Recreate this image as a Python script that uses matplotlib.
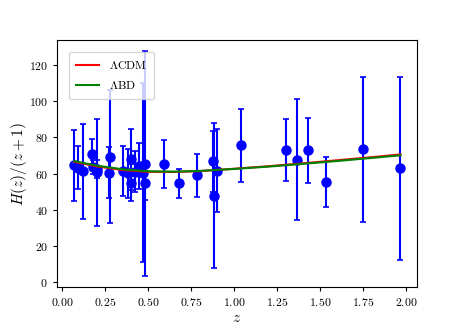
import matplotlib
matplotlib.use("Agg")
import matplotlib.pyplot as plt
from matplotlib.ticker import FuncFormatter

plt.rcParams["mathtext.fontset"] = "cm"
plt.rcParams["font.family"] = ["DejaVu Serif"]

# cosmic chronometer data, H(z)/(1+z) with raw sigma_H as error
z_data = [0.07, 0.09, 0.12, 0.17, 0.179, 0.199, 0.20, 0.27, 0.28, 0.352,
          0.38, 0.40, 0.4004, 0.425, 0.445, 0.47, 0.4783, 0.48, 0.593, 0.68,
          0.781, 0.875, 0.88, 0.90, 1.037, 1.30, 1.363, 1.43, 1.53, 1.75, 1.965]
h_scaled = [64.5, 63.3, 61.3, 70.9, 63.6, 62.6, 60.8, 60.6, 69.4, 61.4,
            60.1, 67.9, 55.0, 61.1, 64.2, 60.5, 54.7, 65.5, 65.3, 54.8,
            59.0, 66.7, 47.9, 61.6, 75.6, 73.0, 67.7, 72.8, 55.3, 73.5, 62.9]
h_err = [19.6, 12.0, 26.2, 8.0, 4.0, 5.0, 29.6, 14.0, 36.6, 14.0,
         13.5, 17.0, 10.2, 11.2, 12.9, 49.6, 9.0, 62.0, 13.0, 8.0,
         12.0, 17.0, 40.0, 23.0, 20.0, 17.0, 33.6, 18.0, 14.0, 40.0, 50.4]

# model curves
z_model = [0.07, 0.2, 0.35, 0.5, 0.65, 0.8, 1.0, 1.2, 1.4, 1.6, 1.8, 1.965]
lcdm = [66.5, 64.0, 62.0, 61.0, 60.9, 61.4, 62.7, 64.1, 65.7, 67.4, 69.1, 70.6]
lbd = [66.9, 64.4, 62.4, 61.3, 61.1, 61.5, 62.6, 63.9, 65.4, 67.0, 68.7, 70.1]

fig = plt.figure(figsize=(4.63, 3.27), dpi=100)
ax = fig.add_axes([0.123, 0.122, 0.778, 0.755])

ax.errorbar(z_data, h_scaled, yerr=h_err, fmt="o", color="blue",
            markersize=6.5, elinewidth=1.5, capsize=2.5, capthick=1.2, zorder=2)
ax.plot(z_model, lcdm, color="red", lw=1.5, label=r"$\Lambda\mathrm{CDM}$", zorder=3)
ax.plot(z_model, lbd, color="green", lw=1.5, label=r"$\Lambda\mathrm{BD}$", zorder=3)

ax.set_xlim(-0.031, 2.062)
ax.set_ylim(-2.7, 133.7)
ax.set_xticks([0, 0.25, 0.5, 0.75, 1.0, 1.25, 1.5, 1.75, 2.0])
ax.set_yticks([0, 20, 40, 60, 80, 100, 120])
ax.xaxis.set_major_formatter(FuncFormatter(lambda v, p: f"${v:.2f}$"))
ax.yaxis.set_major_formatter(FuncFormatter(lambda v, p: f"${v:.0f}$"))
ax.tick_params(labelsize=8.5, length=3)

ax.set_xlabel(r"$z$", fontsize=11, labelpad=1)
ax.set_ylabel(r"$H(z)/(z+1)$", fontsize=11, labelpad=0)

ax.legend(loc="upper left", fontsize=8.5, handlelength=2.0, borderpad=0.6,
          labelspacing=0.6, borderaxespad=1.0)

fig.savefig("out.png", dpi=100)
